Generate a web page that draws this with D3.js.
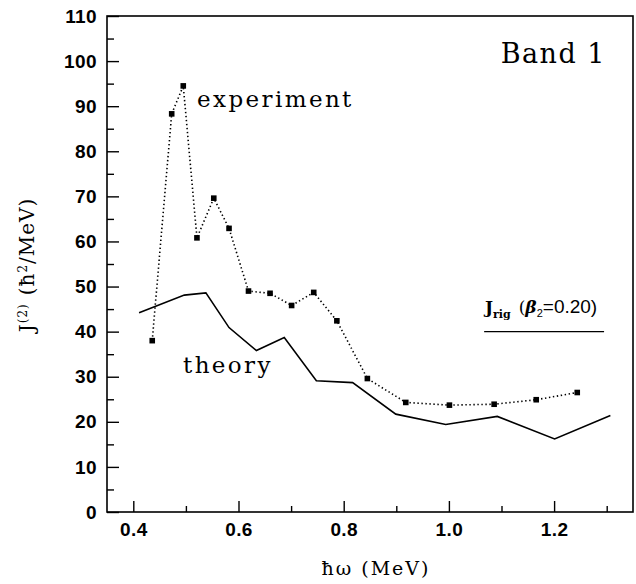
<!DOCTYPE html>
<html>
<head>
<meta charset="utf-8">
<script src="https://cdn.jsdelivr.net/npm/d3@7/dist/d3.min.js"></script>
<style>
	body { margin: 0; background: #fff; }
	.tick text { font-family: "Liberation Sans", Arial, sans-serif; font-weight: bold; font-size: 19px; fill: #000; letter-spacing: 0.4px; }
	.tick line { stroke: #000; stroke-width: 1.4px; }
	.serif { font-family: "DejaVu Serif", serif; fill: #000; }
</style>
</head>
<body>
<div id="chart"></div>
<script>
// experiment (dotted line with squares)
const expX = [0.436, 0.473, 0.495, 0.521, 0.553, 0.582, 0.619, 0.660, 0.701, 0.743, 0.787, 0.845, 0.918, 1.001, 1.086, 1.166, 1.244];
const expY = [38.0, 88.3, 94.5, 60.8, 69.6, 62.9, 49.0, 48.5, 45.8, 48.7, 42.4, 29.6, 24.3, 23.7, 23.9, 24.9, 26.5];

// theory (solid line)
const thX = [0.411, 0.497, 0.538, 0.582, 0.634, 0.687, 0.748, 0.817, 0.899, 0.994, 1.092, 1.201, 1.307];
const thY = [44.2, 48.1, 48.6, 40.9, 35.8, 38.7, 29.1, 28.7, 21.7, 19.4, 21.2, 16.2, 21.4];

// rigid-body reference
const jrigX = [1.067, 1.295];
const jrigY = 40;

// ticks
const xMajor = [0.4, 0.6, 0.8, 1.0, 1.2];
const xMinor = [0.5, 0.7, 0.9, 1.1, 1.3];
const yMajor = [0, 10, 20, 30, 40, 50, 60, 70, 80, 90, 100, 110];
const yMinor = [5, 15, 25, 35, 45, 55, 65, 75, 85, 95, 105];

const W = 636, H = 584;
const margin = {top: 16, right: 3, bottom: 72, left: 107};

const x = d3.scaleLinear().domain([0.35, 1.35]).range([margin.left, W - margin.right]);
const y = d3.scaleLinear().domain([0, 110]).range([H - margin.bottom, margin.top]);

const svg = d3.select("#chart").append("svg")
	.attr("width", W)
	.attr("height", H);

// frame
svg.append("rect")
	.attr("x", x(0.35))
	.attr("y", y(110))
	.attr("width", x(1.35) - x(0.35))
	.attr("height", y(0) - y(110))
	.attr("fill", "none")
	.attr("stroke", "#000")
	.attr("stroke-width", 1.6);

// axes (ticks pointing inward)
svg.append("g")
	.attr("transform", `translate(0,${y(0)})`)
	.call(d3.axisBottom(x).tickValues(xMajor).tickSize(-11).tickPadding(11).tickFormat(d3.format(".1f")))
	.call(g => g.select(".domain").remove());

svg.append("g")
	.attr("transform", `translate(0,${y(0)})`)
	.call(d3.axisBottom(x).tickValues(xMinor).tickSize(-6).tickFormat(""))
	.call(g => g.select(".domain").remove());

svg.append("g")
	.attr("transform", `translate(${x(0.35)},0)`)
	.call(d3.axisLeft(y).tickValues(yMajor).tickSize(-12).tickPadding(10))
	.call(g => g.select(".domain").remove());

svg.append("g")
	.attr("transform", `translate(${x(0.35)},0)`)
	.call(d3.axisLeft(y).tickValues(yMinor).tickSize(-7).tickFormat(""))
	.call(g => g.select(".domain").remove());

// theory line
const thData = thX.map((d, i) => [d, thY[i]]);
const expData = expX.map((d, i) => [d, expY[i]]);
const line = d3.line().x(d => x(d[0])).y(d => y(d[1]));

svg.append("path")
	.datum(thData)
	.attr("d", line)
	.attr("fill", "none")
	.attr("stroke", "#000")
	.attr("stroke-width", 1.6);

// experiment line + markers
svg.append("path")
	.datum(expData)
	.attr("d", line)
	.attr("fill", "none")
	.attr("stroke", "#000")
	.attr("stroke-width", 1.6)
	.attr("stroke-dasharray", "1.4,2.6");

svg.append("g")
	.selectAll("rect")
	.data(expData)
	.enter()
	.append("rect")
		.attr("x", d => x(d[0]) - 2.8)
		.attr("y", d => y(d[1]) - 2.8)
		.attr("width", 5.6)
		.attr("height", 5.6)
		.attr("fill", "#000");

// J_rig line
svg.append("line")
	.attr("x1", x(jrigX[0]))
	.attr("x2", x(jrigX[1]))
	.attr("y1", y(jrigY))
	.attr("y2", y(jrigY))
	.attr("stroke", "#000")
	.attr("stroke-width", 1.4);

// annotations
svg.append("text")
	.attr("class", "serif")
	.attr("x", 606)
	.attr("y", 63)
	.attr("text-anchor", "end")
	.style("font-size", "27px")
	.style("letter-spacing", "1.5px")
	.text("Band 1");

svg.append("text")
	.attr("class", "serif")
	.attr("x", 197)
	.attr("y", 107)
	.style("font-size", "23px")
	.style("letter-spacing", "2.4px")
	.text("experiment");

svg.append("text")
	.attr("class", "serif")
	.attr("x", 183)
	.attr("y", 373)
	.style("font-size", "23px")
	.style("letter-spacing", "2.4px")
	.text("theory");

const jrig = svg.append("text")
	.attr("class", "serif")
	.attr("x", 485)
	.attr("y", 313)
	.style("font-size", "17px");
jrig.append("tspan").style("font-weight", "bold").text("J");
jrig.append("tspan").attr("dy", 5).style("font-size", "11px").style("font-weight", "bold").text("rig");
jrig.append("tspan").attr("dy", -5).attr("dx", 8).text("(");
jrig.append("tspan").style("font-style", "italic").style("font-weight", "bold").text("β");
jrig.append("tspan").attr("dy", 4).style("font-size", "11px").style("font-family", "Liberation Sans, sans-serif").text("2");
jrig.append("tspan").attr("dy", -4).style("font-family", "Liberation Sans, sans-serif").style("font-size", "19px").text("=0.20)");

// axis titles
svg.append("text")
	.attr("class", "serif")
	.attr("x", 376)
	.attr("y", 575)
	.attr("text-anchor", "middle")
	.style("font-size", "19px")
	.style("letter-spacing", "2px")
	.text("ħω (MeV)");

const yl = svg.append("text")
	.attr("class", "serif")
	.attr("transform", "translate(34,265) rotate(-90)")
	.attr("text-anchor", "middle")
	.style("font-size", "20px")
	.style("letter-spacing", "1px");
yl.append("tspan").text("J");
yl.append("tspan").attr("dy", -7).style("font-size", "12px").text("(2)");
yl.append("tspan").attr("dy", 7).attr("dx", 8).text("(ħ");
yl.append("tspan").attr("dy", -7).style("font-size", "12px").text("2");
yl.append("tspan").attr("dy", 7).text("/MeV)");
</script>
</body>
</html>
